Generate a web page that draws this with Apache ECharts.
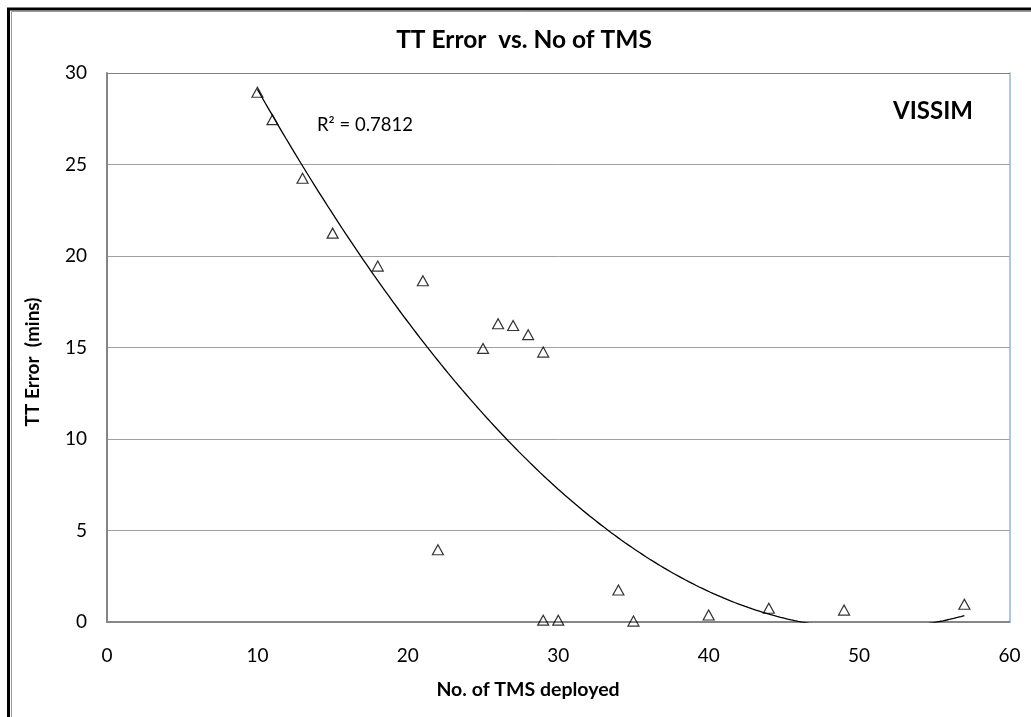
<!DOCTYPE html>
<html>
<head>
<meta charset="utf-8">
<script src="https://cdn.jsdelivr.net/npm/echarts@6/dist/echarts.min.js"></script>
<style>
  html, body { margin: 0; padding: 0; background: #fff; }
  #chart { width: 1031px; height: 717px; }
</style>
</head>
<body>
<div id="chart"></div>
<script>
// Number of TMS deployed vs. travel-time error (VISSIM runs)
const tmsCount = [10, 11, 13, 15, 18, 21, 22, 25, 26, 27, 28, 29, 29, 30, 34, 35, 40, 44, 49, 57];
const ttError  = [28.95, 27.45, 24.25, 21.25, 19.45, 18.65, 3.95, 14.95, 16.3, 16.2, 15.7, 14.75, 0.1, 0.1, 1.75, 0.05, 0.38, 0.75, 0.65, 0.97];
const xTicks = [0, 10, 20, 30, 40, 50, 60];
const yTicks = [0, 5, 10, 15, 20, 25, 30];
const titleText = 'TT Error  vs. No of TMS';
const xName = 'No. of TMS deployed';
const yName = 'TT Error  (mins)';
const r2Text = 'R\u00B2 = 0.7812';
const seriesTag = 'VISSIM';

// Second-order least-squares trendline fitted to the points above
function quadFit(xs, ys) {
  let s = [0, 0, 0, 0, 0], t = [0, 0, 0];
  for (let i = 0; i < xs.length; i++) {
    let p = 1;
    for (let k = 0; k < 5; k++) { s[k] += p; if (k < 3) t[k] += p * ys[i]; p *= xs[i]; }
  }
  const A = [[s[0], s[1], s[2], t[0]], [s[1], s[2], s[3], t[1]], [s[2], s[3], s[4], t[2]]];
  for (let c = 0; c < 3; c++) {
    for (let r = c + 1; r < 3; r++) {
      const f = A[r][c] / A[c][c];
      for (let k = c; k < 4; k++) A[r][k] -= f * A[c][k];
    }
  }
  const b = [0, 0, 0];
  for (let r = 2; r >= 0; r--) {
    let v = A[r][3];
    for (let k = r + 1; k < 3; k++) v -= A[r][k] * b[k];
    b[r] = v / A[r][r];
  }
  return b; // c0 + c1 x + c2 x^2
}
const coef = quadFit(tmsCount, ttError);
const xMinData = Math.min(...tmsCount), xMaxData = Math.max(...tmsCount);
const trend = [];
for (let i = 0; i <= 200; i++) {
  const x = xMinData + (xMaxData - xMinData) * i / 200;
  trend.push([x, coef[0] + coef[1] * x + coef[2] * x * x]);
}

const FONT = 'Lato';
const chart = echarts.init(document.getElementById('chart'), null, { renderer: 'canvas' });
chart.setOption({
  animation: false,
  backgroundColor: '#fff',
  grid: { left: 107, right: 21.5, top: 73, bottom: 95, containLabel: false },
  xAxis: [{
    type: 'value', min: xTicks[0], max: xTicks[xTicks.length - 1], interval: 10,
    axisLine: { show: true, onZero: false, lineStyle: { color: '#868686', width: 2 } },
    axisTick: { show: false },
    axisLabel: { fontFamily: FONT, fontSize: 19, color: '#000', margin: 24 },
    splitLine: { show: false }, z: 3
  }, {
    // plot-area frame, top edge
    type: 'value', position: 'top', min: xTicks[0], max: xTicks[xTicks.length - 1],
    axisLine: { show: true, onZero: false, lineStyle: { color: '#5b85c0', width: 1 } },
    axisTick: { show: false }, axisLabel: { show: false }, splitLine: { show: false }
  }],
  yAxis: [{
    type: 'value', min: yTicks[0], max: yTicks[yTicks.length - 1], interval: 5,
    axisLine: { show: true, onZero: false, lineStyle: { color: '#868686', width: 2 } },
    axisTick: { show: false },
    axisLabel: { fontFamily: FONT, fontSize: 19, color: '#000', margin: 20 },
    splitLine: { show: true, showMaxLine: false, showMinLine: false, lineStyle: { color: '#a0a0a0', width: 1 } },
    z: 3
  }, {
    // plot-area frame, right edge
    type: 'value', position: 'right', min: yTicks[0], max: yTicks[yTicks.length - 1],
    axisLine: { show: true, onZero: false, lineStyle: { color: '#95b3d7', width: 1.5 } },
    axisTick: { show: false }, axisLabel: { show: false }, splitLine: { show: false }
  }],
  series: [{
    type: 'line', name: 'trend', data: trend, showSymbol: false, symbol: 'none',
    clip: true, smooth: false,
    lineStyle: { color: '#000', width: 1.3 }, z: 3
  }, {
    type: 'scatter', name: seriesTag,
    data: tmsCount.map((x, i) => [x, ttError[i]]),
    symbol: 'triangle', symbolSize: [11, 10],
    itemStyle: { color: 'rgba(255,255,255,0)', borderColor: '#000', borderWidth: 1.2 },
    z: 4
  }],
  graphic: [
    { type: 'rect', silent: true, shape: { x: 8.5, y: 9, width: 1040, height: 730 },
      style: { fill: 'none', stroke: '#000', lineWidth: 3 } },
    { type: 'rect', silent: true, shape: { x: 11.5, y: 11.5, width: 1040, height: 730 },
      style: { fill: 'none', stroke: '#9a9a9a', lineWidth: 1 } },
    { type: 'text', x: 524, y: 40, silent: true,
      style: { text: titleText, font: 'bold 24.5px ' + FONT, fill: '#000', textAlign: 'center', textVerticalAlign: 'middle' } },
    { type: 'text', x: 528, y: 690, silent: true,
      style: { text: xName, font: 'bold 19.5px ' + FONT, fill: '#000', textAlign: 'center', textVerticalAlign: 'middle' } },
    { type: 'text', x: 33, y: 362, rotation: Math.PI / 2, silent: true,
      style: { text: yName, font: 'bold 19px ' + FONT, fill: '#000', textAlign: 'center', textVerticalAlign: 'middle' } },
    { type: 'text', x: 317, y: 125, silent: true,
      style: { text: r2Text, font: '18.5px ' + FONT, fill: '#000', textAlign: 'left', textVerticalAlign: 'middle' } },
    { type: 'text', x: 933, y: 111, silent: true,
      style: { text: seriesTag, font: 'bold 24px ' + FONT, fill: '#000', textAlign: 'center', textVerticalAlign: 'middle' } }
  ]
});
</script>
</body>
</html>
